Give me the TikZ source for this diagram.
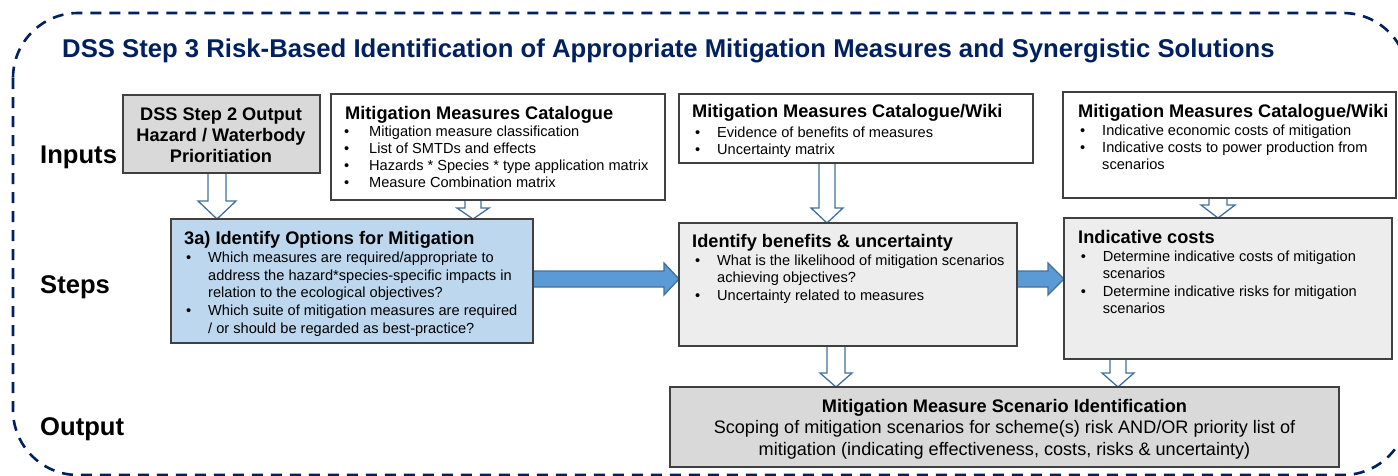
\documentclass[tikz,border=0pt]{standalone}
\usepackage{fontspec}
\setmainfont{Liberation Sans}
\usetikzlibrary{calc}
\definecolor{navy}{HTML}{002060}
\definecolor{boxline}{HTML}{404040}
\definecolor{bluefill}{HTML}{BDD7EE}
\definecolor{grayA}{HTML}{D9D9D9}
\definecolor{grayB}{HTML}{EDEDED}
\definecolor{arrowline}{HTML}{41719C}
\definecolor{arrowfill}{HTML}{5B9BD5}
\pgfdeclarelayer{bg}
\pgfsetlayers{bg,main}
\newcommand\bul[1][22pt]{\makebox[#1][l]{\textbullet}}
\newcommand\ind[1][22pt]{\hspace*{#1}}
% hollow block arrow pointing down: x, source, target, half shaft, half head, head length
\newcommand\hollowdown[6]{%
  \begin{pgfonlayer}{bg}
  \draw[hollowarrow] let \p1=(#2.south), \p2=(#3.north) in
    ({#1-#4},\y1) -- ({#1-#4},{\y2+#6pt}) -- ({#1-#5},{\y2+#6pt}) -- (#1,\y2)
    -- ({#1+#5},{\y2+#6pt}) -- ({#1+#4},{\y2+#6pt}) -- ({#1+#4},\y1);
  \end{pgfonlayer}}
% solid block arrow pointing right: y, source, target, half shaft, half head, head length
\newcommand\solidright[6]{%
  \begin{pgfonlayer}{bg}
  \draw[solidarrow] let \p1=(#2.east), \p2=(#3.west) in
    (\x1,{#1-#4}) -- ({\x2-#6pt},{#1-#4}) -- ({\x2-#6pt},{#1-#5}) -- (\x2,#1)
    -- ({\x2-#6pt},{#1+#5}) -- ({\x2-#6pt},{#1+#4}) -- (\x1,{#1+#4});
  \end{pgfonlayer}}
\begin{document}
\begin{tikzpicture}[x=1pt,y=-1pt,
  box/.style={draw=boxline, line width=1.3pt, anchor=north west, inner sep=0pt, outer sep=0pt},
  boxtitle/.style={anchor=base west, inner sep=0pt, font=\fontsize{18.2}{22}\selectfont\bfseries},
  bullets/.style={anchor=base west, inner sep=0pt, align=left, font=\fontsize{14.6}{17.4}\selectfont},
  rowlabel/.style={anchor=base west, inner sep=0pt, font=\fontsize{25.6}{30}\selectfont\bfseries},
  hollowarrow/.style={draw=arrowline, line width=1.3pt, fill=white, line join=miter},
  solidarrow/.style={draw=arrowline, line width=1.3pt, fill=arrowfill, line join=miter},
]
\useasboundingbox (0,0) rectangle (1398,475);
% dashed frame
\draw[navy, line width=2.6pt, dash pattern=on 11pt off 8pt, rounded corners=65pt] (13,13) rectangle (1408,475);

% title and row labels
\node[anchor=base west, inner sep=0pt, text=navy, font=\fontsize{25.7}{30}\selectfont\bfseries] (title) at (62,57)
  {DSS Step 3 Risk-Based Identification of Appropriate Mitigation Measures and Synergistic Solutions};
\node[rowlabel] (inputs) at (40,163) {Inputs};
\node[rowlabel] (steps) at (40,293) {Steps};
\node[rowlabel] (output) at (40,435) {Output};

% boxes
\node[box, fill=grayA, minimum width=197pt, minimum height=78pt] (s2) at (123,95) {};
\node[box, fill=white, minimum width=334pt, minimum height=106pt] (mmc) at (331,94) {};
\node[box, fill=white, minimum width=354pt, minimum height=69pt] (wiki1) at (679,94) {};
\node[box, fill=white, minimum width=333pt, minimum height=106pt] (wiki2) at (1063,92) {};
\node[box, fill=bluefill, minimum width=362pt, minimum height=124pt] (s3a) at (171,219) {};
\node[box, fill=grayB, minimum width=338pt, minimum height=123pt] (ben) at (679,223) {};
\node[box, fill=grayB, minimum width=328pt, minimum height=141pt] (cost) at (1064,218) {};
\node[box, fill=grayA, minimum width=669pt, minimum height=80pt] (out) at (670,387) {};

% box texts (multi-line nodes are anchored at the baseline of their last line)
\node[anchor=base, inner sep=0pt, align=center, font=\fontsize{18.2}{21}\selectfont\bfseries] (s2t) at (221,162)
  {DSS Step 2 Output\\Hazard / Waterbody\\Prioritiation};

\node[boxtitle] (mmct) at (345,119) {Mitigation Measures Catalogue};
\node[bullets, font=\fontsize{14.6}{17}\selectfont] (mmcb) at (344,187)
  {\bul[25pt]Mitigation measure classification\\
   \bul[25pt]List of SMTDs and effects\\
   \bul[25pt]Hazards * Species * type application matrix\\
   \bul[25pt]Measure Combination matrix};

\node[boxtitle] (wiki1t) at (692,117) {Mitigation Measures Catalogue/Wiki};
\node[bullets, font=\fontsize{14.6}{17}\selectfont] (wiki1b) at (695,154)
  {\bul Evidence of benefits of measures\\
   \bul Uncertainty matrix};

\node[boxtitle] (wiki2t) at (1078,117) {Mitigation Measures Catalogue/Wiki};
\node[bullets, font=\fontsize{14.6}{17}\selectfont] (wiki2b) at (1080,169)
  {\bul Indicative economic costs of mitigation\\
   \bul Indicative costs to power production from\\
   \ind scenarios};

\node[boxtitle] (s3at) at (184,244) {3a) Identify Options for Mitigation};
\node[bullets, font=\fontsize{14.6}{17.6}\selectfont] (s3ab) at (186,333.1)
  {\bul Which measures are required/appropriate to\\
   \ind address the hazard*species-specific impacts in\\
   \ind relation to the ecological objectives?\\
   \bul Which suite of mitigation measures are required\\
   \ind / or should be regarded as best-practice?};

\node[boxtitle] (bent) at (692,247) {Identify benefits \& uncertainty};
\node[bullets, font=\fontsize{14.6}{17.6}\selectfont] (benb) at (695,300.2)
  {\bul What is the likelihood of mitigation scenarios\\
   \ind achieving objectives?\\
   \bul Uncertainty related to measures};

\node[boxtitle] (costt) at (1078,243) {Indicative costs};
\node[bullets, font=\fontsize{14.6}{17.5}\selectfont] (costb) at (1080.6,313.5)
  {\bul Determine indicative costs of mitigation\\
   \ind scenarios\\
   \bul Determine indicative risks for mitigation\\
   \ind scenarios};

\node[anchor=base, inner sep=0pt, font=\fontsize{18.2}{22}\selectfont\bfseries] (outt) at (1004.5,412)
  {Mitigation Measure Scenario Identification};
\node[anchor=base, inner sep=0pt, align=center, font=\fontsize{18.1}{22}\selectfont] (outb) at (1004.5,455.5)
  {Scoping of mitigation scenarios for scheme(s) risk AND/OR priority list of\\
   mitigation (indicating effectiveness, costs, risks \& uncertainty)};

% connectors
\hollowdown{217}{s2}{s3a}{9}{19}{18}
\hollowdown{473}{mmc}{s3a}{8}{16}{11}
\hollowdown{827}{wiki1}{ben}{8}{16}{15}
\hollowdown{1218}{wiki2}{cost}{9}{17}{13}
\hollowdown{836}{ben}{out}{9}{16}{14}
\hollowdown{1118}{cost}{out}{8}{16}{14}
\solidright{279}{s3a}{ben}{8}{16}{15}
\solidright{279}{ben}{cost}{8}{16}{16}
\end{tikzpicture}
\end{document}
